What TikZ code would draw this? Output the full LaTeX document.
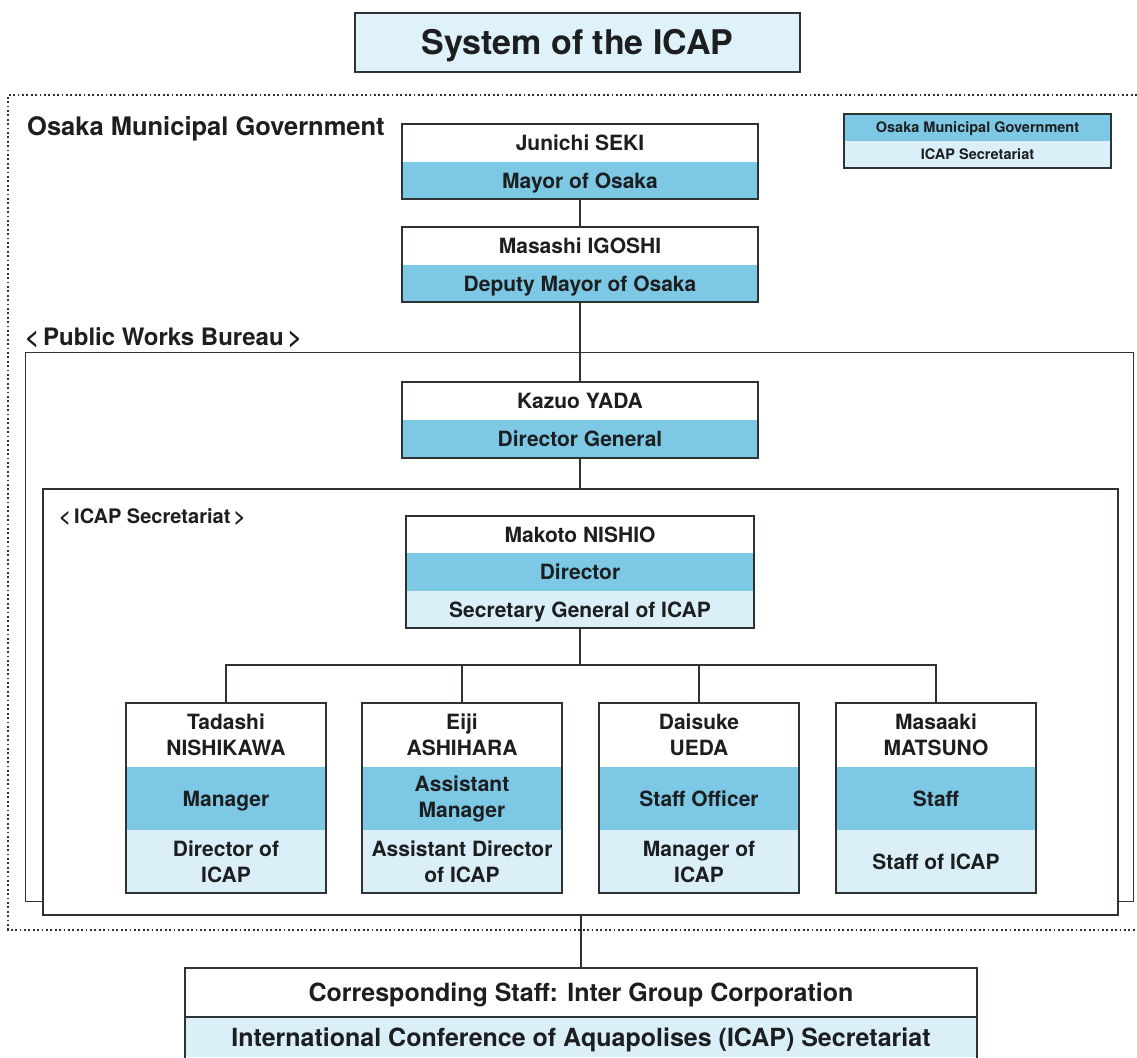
\documentclass[tikz,border=0pt]{standalone}
\usepackage{fontspec}
\setmainfont{TeX Gyre Heros}
\definecolor{midblue}{RGB}{125,201,229}
\definecolor{lightblue}{RGB}{218,239,248}
\definecolor{titleblue}{RGB}{224,242,249}
\definecolor{ink}{RGB}{28,30,32}
\definecolor{edge}{RGB}{45,50,50}
\begin{document}
\begin{tikzpicture}[x=1pt,y=-1pt,
  every node/.style={text=ink},
  bandbase/.style={inner sep=0pt, outer sep=0pt, anchor=north, align=center},
  big/.style={font=\bfseries\fontsize{21}{26}\selectfont},
  one/.style={text height=15pt, text depth=0pt},
  wb/.style={fill=white}, mb/.style={fill=midblue}, lb/.style={fill=lightblue},
  outline/.style={draw=edge, line width=1.4pt},
  conn/.style={draw=edge, line width=1.4pt},
  topw/.style={minimum width=356pt},
  smallw/.style={minimum width=200pt},
  label/.style={anchor=base west, inner sep=0pt}
]
\useasboundingbox (0,0) rectangle (1137,1057);

% title
\node[bandbase, anchor=center, fill=titleblue, draw=edge, line width=1.2pt,
  minimum width=445pt, minimum height=59pt,
  font=\bfseries\fontsize{34}{40}\selectfont, text height=24.5pt, text depth=0pt]
  (title) at (577.5,42.5) {System of the ICAP};

% outer dotted frame
\coordinate (dtl) at (8,95); \coordinate (dbl) at (8,930);
\coordinate (dtr) at (1137,95); \coordinate (dbr) at (1137,930);
\draw[edge, line width=1.8pt, dash pattern=on 1.8pt off 2.6pt] (dtr) -- (dtl) -- (dbl) -- (dbr);

\node[label, font=\bfseries\fontsize{25.5}{30}\selectfont] (omg) at (27,135) {Osaka Municipal Government};

% legend
\node[bandbase, mb, minimum width=267pt, minimum height=27pt,
  font=\bfseries\fontsize{14.5}{17}\selectfont, text height=10.5pt, text depth=0pt]
  (leg1) at (977.5,114) {Osaka Municipal Government};
\node[bandbase, lb, minimum width=267pt, minimum height=27pt,
  font=\bfseries\fontsize{14.5}{17}\selectfont, text height=10.5pt, text depth=0pt]
  (leg2) at (leg1.south) {ICAP Secretariat};
\draw[outline, line width=1.2pt] (leg1.north west) rectangle (leg2.south east);

% frames
\node[draw=edge, line width=1.2pt, inner sep=0pt, anchor=north west,
  minimum width=1108pt, minimum height=549pt] (pwb) at (25,352) {};
\node[label, font=\bfseries\fontsize{24}{28}\selectfont] (pwblabel) at (25,345) {<\,Public Works Bureau\,>};
\node[draw=edge, line width=2pt, fill=white, inner sep=0pt, anchor=north west,
  minimum width=1075pt, minimum height=426pt] (icapf) at (42,488) {};
\node[label, font=\bfseries\fontsize{20}{24}\selectfont] (icaplabel) at (59,523) {<\,ICAP Secretariat\,>};

% top boxes
\node[bandbase, big, one, wb, topw, minimum height=38pt] (seki) at (580,124) {Junichi SEKI};
\node[bandbase, big, one, mb, topw, minimum height=37pt] (sekir) at (seki.south) {Mayor of Osaka};

\node[bandbase, big, one, wb, topw, minimum height=38pt] (igoshi) at (580,227) {Masashi IGOSHI};
\node[bandbase, big, one, mb, topw, minimum height=37pt] (igoshir) at (igoshi.south) {Deputy Mayor of Osaka};

\node[bandbase, big, one, wb, topw, minimum height=38pt] (yada) at (580,382) {Kazuo YADA};
\node[bandbase, big, one, mb, topw, minimum height=38pt] (yadar) at (yada.south) {Director General};

\node[bandbase, big, one, wb, minimum width=348pt, minimum height=37pt] (nishio) at (580,516) {Makoto NISHIO};
\node[bandbase, big, one, mb, minimum width=348pt, minimum height=38pt] (nishior) at (nishio.south) {Director};
\node[bandbase, big, one, lb, minimum width=348pt, minimum height=37pt] (nishioi) at (nishior.south) {Secretary General of ICAP};

% small boxes
\node[bandbase, big, wb, smallw, minimum height=64pt] (tadashi) at (226,703) {Tadashi\\NISHIKAWA};
\node[bandbase, big, one, mb, smallw, minimum height=63pt] (tadashir) at (tadashi.south) {Manager};
\node[bandbase, big, lb, smallw, minimum height=63pt] (tadashii) at (tadashir.south) {Director of\\ICAP};

\node[bandbase, big, wb, smallw, minimum height=64pt] (eiji) at (462,703) {Eiji\\ASHIHARA};
\node[bandbase, big, mb, smallw, minimum height=63pt] (eijir) at (eiji.south) {Assistant\\Manager};
\node[bandbase, big, lb, smallw, minimum height=63pt] (eijii) at (eijir.south) {Assistant Director\\of ICAP};

\node[bandbase, big, wb, smallw, minimum height=64pt] (daisuke) at (699,703) {Daisuke\\UEDA};
\node[bandbase, big, one, mb, smallw, minimum height=63pt] (daisuker) at (daisuke.south) {Staff Officer};
\node[bandbase, big, lb, smallw, minimum height=63pt] (daisukei) at (daisuker.south) {Manager of\\ICAP};

\node[bandbase, big, wb, smallw, minimum height=64pt] (masaaki) at (936,703) {Masaaki\\MATSUNO};
\node[bandbase, big, one, mb, smallw, minimum height=63pt] (masaakir) at (masaaki.south) {Staff};
\node[bandbase, big, one, lb, smallw, minimum height=63pt] (masaakii) at (masaakir.south) {Staff of ICAP};

% bottom box
\node[bandbase, wb, minimum width=792pt, minimum height=49pt,
  font=\bfseries\fontsize{25}{30}\selectfont, text height=18pt, text depth=0pt]
  (corr) at (581,968) {Corresponding Staff: Inter Group Corporation};
\node[bandbase, lb, minimum width=792pt, minimum height=40pt,
  font=\bfseries\fontsize{25}{30}\selectfont, text height=18pt, text depth=0pt]
  (conf) at (corr.south) {International Conference of Aquapolises (ICAP) Secretariat};

% connectors
\coordinate (bus) at (580,665);
\draw[conn] (sekir.south) -- (igoshi.north);
\draw[conn] (igoshir.south) -- (yada.north);
\draw[conn] (yadar.south) -- (yadar.south |- icapf.north);
\draw[conn] (nishioi.south) -- (bus);
\draw[conn] (tadashi.north) -- (tadashi.north |- bus) -- (masaaki.north |- bus) -- (masaaki.north);
\draw[conn] (eiji.north) -- (eiji.north |- bus);
\draw[conn] (daisuke.north) -- (daisuke.north |- bus);
\draw[conn] (corr.north |- icapf.south) -- (corr.north);

% outlines
\draw[outline] (seki.north west) rectangle (sekir.south east);
\draw[outline] (igoshi.north west) rectangle (igoshir.south east);
\draw[outline] (yada.north west) rectangle (yadar.south east);
\draw[outline] (nishio.north west) rectangle (nishioi.south east);
\draw[outline] (tadashi.north west) rectangle (tadashii.south east);
\draw[outline] (eiji.north west) rectangle (eijii.south east);
\draw[outline] (daisuke.north west) rectangle (daisukei.south east);
\draw[outline] (masaaki.north west) rectangle (masaakii.south east);
\draw[outline] ([yshift=-10pt]conf.south west) -- (corr.north west) -- (corr.north east) -- ([yshift=-10pt]conf.south east);
\draw[outline] (corr.south west) -- (corr.south east);
\end{tikzpicture}
\end{document}
